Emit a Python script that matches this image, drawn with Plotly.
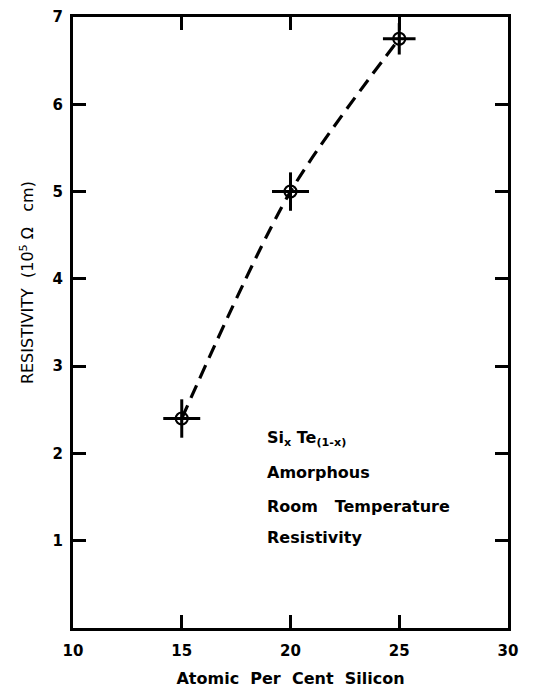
import plotly.graph_objects as go

silicon_pct = [15, 20, 25]
resistivity = [2.4, 5.0, 6.75]
x_err = [0.85, 0.85, 0.75]
y_err = [0.22, 0.22, 0.18]
x_ticks = [10, 15, 20, 25, 30]
y_ticks = [1, 2, 3, 4, 5, 6, 7]

FONT = "DejaVu Sans"

fig = go.Figure()
# dashed smooth curve
fig.add_trace(go.Scatter(
    x=silicon_pct, y=resistivity, mode="lines",
    line=dict(color="black", width=3.2, dash="14px,8px", shape="spline", smoothing=0.8),
    hoverinfo="skip", showlegend=False))
# points with cross error bars
fig.add_trace(go.Scatter(
    x=silicon_pct, y=resistivity, mode="markers",
    marker=dict(symbol="circle-cross-open", size=12, color="black", line=dict(width=2.2, color="black")),
    error_x=dict(type="data", array=x_err, width=0, thickness=3, color="black"),
    error_y=dict(type="data", array=y_err, width=0, thickness=3, color="black"),
    showlegend=False))

axis_common = dict(showline=True, linecolor="black", linewidth=3, mirror="ticks",
                   ticks="inside", ticklen=13, tickwidth=3, tickcolor="black",
                   showgrid=False, zeroline=False, automargin=False,
                   tickfont=dict(family=FONT, size=15, color="black", weight="bold"))

fig.update_xaxes(range=[10, 30], tickvals=x_ticks, ticklabelstandoff=7, **axis_common,
                 title=dict(text="Atomic  Per  Cent  Silicon",
                            font=dict(family=FONT, size=16, color="black", weight="bold"),
                            standoff=14))
fig.update_yaxes(range=[0, 7], tickvals=y_ticks, ticklabelstandoff=4, **axis_common)

fig.add_annotation(
    xref="paper", yref="paper", x=-0.105, y=0.565,
    text="RESISTIVITY  (10<sup>5</sup> Ω   cm)", textangle=-90, showarrow=False,
    font=dict(family=FONT, size=16, color="black"), xanchor="center", yanchor="middle")

lines = ["Si<sub>x</sub> Te<sub>(1-x)</sub>", "Amorphous", "Room   Temperature", "Resistivity"]
ys = [2.17, 1.78, 1.39, 1.04]
for t, yv in zip(lines, ys):
    fig.add_annotation(x=18.83, y=yv, text=t, showarrow=False, xanchor="left", yanchor="middle",
                       font=dict(family=FONT, size=16, color="black", weight="bold"))

fig.update_layout(width=534, height=694, margin=dict(l=73, r=26, t=17, b=66),
                  plot_bgcolor="white", paper_bgcolor="white")

fig.write_html("out.html")
